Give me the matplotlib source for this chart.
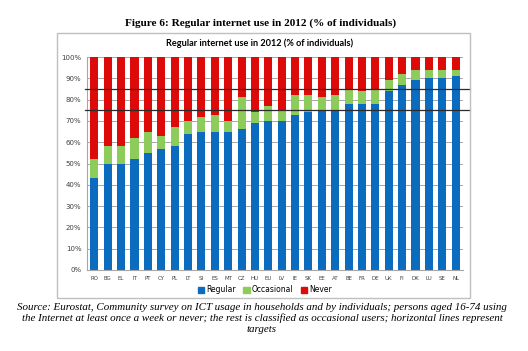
import matplotlib
matplotlib.use("Agg")
import matplotlib.pyplot as plt
import matplotlib.transforms as mtransforms
from matplotlib.patches import Rectangle, Patch
import numpy as np

countries = ["RO", "BG", "EL", "IT", "PT", "CY", "PL", "LT", "SI", "ES", "MT", "CZ", "HU", "EU",
             "LV", "IE", "SK", "EE", "AT", "BE", "FR", "DE", "UK", "FI", "DK", "LU", "SE", "NL"]
regular = [43, 50, 50, 52, 55, 57, 58, 64, 65, 65, 65, 66, 69, 70,
           70, 73, 74, 75, 75, 78, 78, 78, 84, 87, 89, 90, 90, 91]
occasional = [9, 8, 8, 10, 10, 6, 9, 6, 7, 8, 5, 15, 5, 7,
              5, 9, 8, 6, 7, 7, 6, 7, 5, 5, 5, 4, 4, 3]
never = [100 - r - o for r, o in zip(regular, occasional)]
targets = [75, 85]
yticks = list(range(0, 101, 10))

W, H = 528, 351
fig = plt.figure(figsize=(W / 100, H / 100), dpi=100)
fig.patch.set_facecolor("white")

def fx(px):
    return px / W

def fy(py):
    return 1 - py / H

# chart box
fig.patches.append(Rectangle((fx(57), fy(298)), fx(470) - fx(57), fy(33) - fy(298),
                             transform=fig.transFigure, fill=False, edgecolor="#BFBFBF", lw=1.0))

ax = fig.add_axes([fx(87), fy(270), fx(463) - fx(87), fy(57) - fy(270)])
x = np.arange(len(countries))
c_reg, c_occ, c_nev = "#0B6BBF", "#8DCB5A", "#DD0A0A"
bw = 0.6
ax.bar(x, regular, bw, color=c_reg, label="Regular", zorder=2)
ax.bar(x, occasional, bw, bottom=regular, color=c_occ, label="Occasional", zorder=2)
bottoms = [r + o for r, o in zip(regular, occasional)]
ax.bar(x, never, bw, bottom=bottoms, color=c_nev, label="Never", zorder=2)

ax.set_ylim(0, 100)
ax.set_xlim(-0.55, len(countries) - 0.45)
ax.set_yticks(yticks)
ax.set_yticklabels([f"{v}%" for v in yticks], fontsize=5, color="#404040", family="DejaVu Sans")
ax.set_xticks(x)
ax.set_xticklabels(countries, fontsize=4, color="#404040")
ax.yaxis.grid(True, color="#A6A6A6", lw=0.7, zorder=0)
ax.set_axisbelow(True)
for s in ["top", "right"]:
    ax.spines[s].set_visible(False)
ax.spines["left"].set_color("#A6A6A6")
ax.spines["bottom"].set_color("#A6A6A6")
ax.tick_params(axis="y", length=0, pad=4)
ax.tick_params(axis="x", length=0, pad=4)

# target lines
tr = mtransforms.blended_transform_factory(fig.transFigure, ax.transData)
for t in targets:
    ax.plot([fx(85), fx(470)], [t, t], transform=tr, color="#2B2B2B", lw=0.9,
            clip_on=False, zorder=5)

# titles
fig.text(fx(261), fy(23), "Figure 6: Regular internet use in 2012 (% of individuals)",
         ha="center", va="center", fontsize=8.1, fontweight="bold", family="Liberation Serif")
fig.text(fx(260), fy(43), "Regular internet use in 2012 (% of individuals)",
         ha="center", va="center", fontsize=6.6, fontweight="bold", family="Lato")

handles = [Patch(color=c_reg), Patch(color=c_occ), Patch(color=c_nev)]
fig.legend(handles, ["Regular", "Occasional", "Never"], loc="center",
           bbox_to_anchor=(fx(265), fy(290)), ncol=3, frameon=False, fontsize=5.5,
           handlelength=0.8, handleheight=0.8, handletextpad=0.3, columnspacing=1.0)

caption = ["Source: Eurostat, Community survey on ICT usage in households and by individuals; persons aged 16-74 using",
           "the Internet at least once a week or never; the rest is classified as occasional users; horizontal lines represent",
           "targets"]
for i, line in enumerate(caption):
    fig.text(fx(262), fy(307 + 11.5 * i), line, ha="center", va="center", fontsize=7.9,
             style="italic", family="Liberation Serif")

fig.savefig("out.png", dpi=100)
